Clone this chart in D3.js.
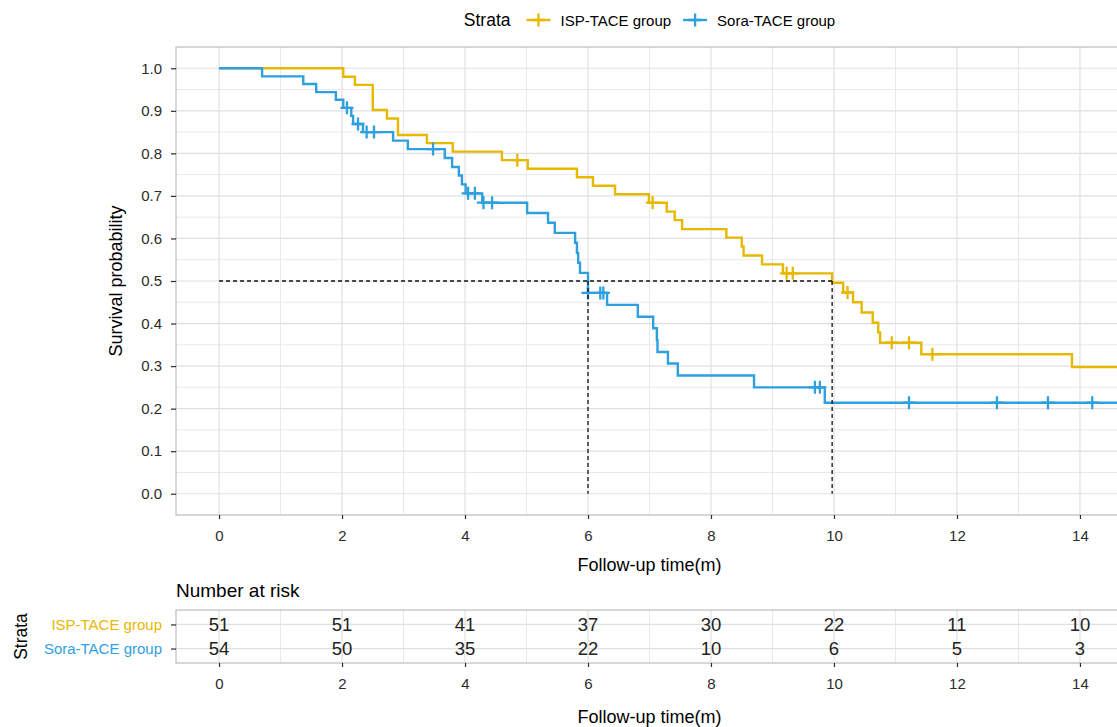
<!DOCTYPE html>
<html>
<head>
<meta charset="utf-8">
<title>Survival curves</title>
<script src="https://cdn.jsdelivr.net/npm/d3@7"></script>
<style>
  body { margin: 0; background: #fff; }
  text { font-family: "Liberation Sans", Arial, sans-serif; }
</style>
</head>
<body>
<script>
// groups and palette
var groups = ["ISP-TACE group", "Sora-TACE group"];
var colors = ["#E7B800", "#2E9FDF"];

// step curves (time in months, survival)
var ispTime = [0, 2.02, 2.21, 2.50, 2.73, 2.91, 3.38, 3.80, 4.60, 5.02, 5.82, 6.08, 6.44, 6.99,
  7.28, 7.41, 7.53, 8.25, 8.50, 8.53, 8.83, 9.17, 9.97, 10.15, 10.31, 10.45, 10.63, 10.72,
  10.75, 11.42, 13.87];
var ispSurv = [1, 0.980, 0.961, 0.902, 0.882, 0.843, 0.824, 0.804, 0.784, 0.764, 0.744, 0.724,
  0.704, 0.684, 0.663, 0.643, 0.622, 0.602, 0.581, 0.560, 0.539, 0.518, 0.496, 0.473, 0.450,
  0.426, 0.402, 0.379, 0.355, 0.328, 0.298];
var ispCensor = [4.85, 7.05, 9.23, 9.33, 10.22, 10.94, 11.22, 11.60];

var soraTime = [0, 0.70, 1.37, 1.58, 1.90, 2.02, 2.15, 2.18, 2.34, 2.83, 3.07, 3.67, 3.79, 3.90,
  3.95, 4.01, 4.28, 5.01, 5.35, 5.46, 5.79, 5.82, 5.84, 5.87, 6.00, 6.31, 6.81, 7.06, 7.12,
  7.13, 7.30, 7.46, 8.70, 9.85];
var soraSurv = [1, 0.981, 0.963, 0.944, 0.926, 0.907, 0.888, 0.869, 0.850, 0.830, 0.810, 0.789,
  0.768, 0.748, 0.727, 0.706, 0.684, 0.660, 0.637, 0.613, 0.590, 0.566, 0.543, 0.519, 0.472,
  0.444, 0.416, 0.389, 0.361, 0.333, 0.306, 0.278, 0.250, 0.214];
var soraCensor = [2.08, 2.26, 2.40, 2.52, 3.48, 4.05, 4.16, 4.30, 4.44, 6.00, 6.20, 6.25,
  9.69, 9.77, 11.22, 12.65, 13.48, 14.20];

var followEnd = 15;
var medianTimes = [9.97, 6.00];

// axes and risk table
var timeBreaks = [0, 2, 4, 6, 8, 10, 12, 14];
var survBreaks = [0, 0.1, 0.2, 0.3, 0.4, 0.5, 0.6, 0.7, 0.8, 0.9, 1.0];
var ispRisk = [51, 51, 41, 37, 30, 22, 11, 10];
var soraRisk = [54, 50, 35, 22, 10, 6, 5, 3];

var W = 1117, H = 727;
var svg = d3.select("body").append("svg")
    .attr("width", W)
    .attr("height", H);

var left = 176, right = 1123;
var x = d3.scaleLinear().domain([-0.7, 14.7]).range([left, right]);
var y = d3.scaleLinear().domain([-0.05, 1.05]).range([515, 47]);

var gridMajor = "#e0e0e0", gridMinor = "#e9e9e9", border = "#bdbdbd", ink = "#2b2b2b";

function grid(g, xs, ys, y0, y1, color, width) {
    g.selectAll(null).data(xs).enter().append("line")
        .attr("x1", d => x(d)).attr("x2", d => x(d))
        .attr("y1", y0).attr("y2", y1)
        .attr("stroke", color).attr("stroke-width", width);
    g.selectAll(null).data(ys).enter().append("line")
        .attr("x1", left).attr("x2", right)
        .attr("y1", d => d).attr("y2", d => d)
        .attr("stroke", color).attr("stroke-width", width);
}

// ---- survival panel ----
var minorX = d3.range(1, 14, 2);
var minorY = survBreaks.slice(0, -1).map(d => d + 0.05);
var pg = svg.append("g");
grid(pg, minorX, minorY.map(y), y.range()[1], y.range()[0], gridMinor, 1);
grid(pg, timeBreaks, survBreaks.map(y), y.range()[1], y.range()[0], gridMajor, 1.2);

svg.append("clipPath").attr("id", "clip")
  .append("rect")
    .attr("x", left).attr("y", y.range()[1])
    .attr("width", right - left).attr("height", y.range()[0] - y.range()[1]);

var line = d3.line()
    .x(d => x(d[0]))
    .y(d => y(d[1]))
    .curve(d3.curveStepAfter);

var curves = [
    { time: ispTime, surv: ispSurv, cens: ispCensor },
    { time: soraTime, surv: soraSurv, cens: soraCensor }
];

function survAt(c, t) {
    var i = d3.bisectRight(c.time, t) - 1;
    return c.surv[Math.max(i, 0)];
}

var plot = svg.append("g").attr("clip-path", "url(#clip)");
curves.forEach(function (c, k) {
    var pts = c.time.map((t, i) => [t, c.surv[i]]);
    pts.push([followEnd, c.surv[c.surv.length - 1]]);
    plot.append("path")
        .datum(pts)
        .attr("fill", "none")
        .attr("stroke", colors[k])
        .attr("stroke-width", 2.4)
        .attr("d", line);
});
curves.forEach(function (c, k) {
    plot.selectAll(null).data(c.cens).enter().append("path")
        .attr("d", function (t) {
            var px = x(t), py = y(survAt(c, t));
            return "M" + (px - 6.5) + "," + py + "h13M" + px + "," + (py - 6.5) + "v13";
        })
        .attr("stroke", colors[k])
        .attr("stroke-width", 2.3);
});

// median lines
var dash = "4,3";
plot.append("line")
    .attr("x1", x(0)).attr("x2", x(d3.max(medianTimes)))
    .attr("y1", y(0.5)).attr("y2", y(0.5))
    .attr("stroke", "#111").attr("stroke-width", 1.3).attr("stroke-dasharray", dash);
plot.selectAll(null).data(medianTimes).enter().append("line")
    .attr("x1", d => x(d)).attr("x2", d => x(d))
    .attr("y1", y(0.5)).attr("y2", y(0))
    .attr("stroke", "#111").attr("stroke-width", 1.3).attr("stroke-dasharray", dash);

svg.append("rect")
    .attr("x", left).attr("y", y.range()[1])
    .attr("width", right - left).attr("height", y.range()[0] - y.range()[1])
    .attr("fill", "none").attr("stroke", border).attr("stroke-width", 1.2);

function styleAxis(g) {
    g.select(".domain").remove();
    g.selectAll(".tick line").attr("stroke", ink).attr("stroke-width", 1.2);
    g.selectAll(".tick text").attr("fill", ink).style("font-size", "15px")
        .style("font-family", "'Liberation Sans', Arial, sans-serif");
}

svg.append("g")
    .attr("transform", "translate(" + left + ",0)")
    .call(d3.axisLeft(y).tickValues(survBreaks).tickFormat(d3.format(".1f")).tickSize(5).tickPadding(9))
    .call(styleAxis);

svg.append("g")
    .attr("transform", "translate(0," + y.range()[0] + ")")
    .call(d3.axisBottom(x).tickValues(timeBreaks).tickSize(4).tickPadding(11))
    .call(styleAxis);

svg.append("text")
    .attr("transform", "translate(116," + ((y.range()[0] + y.range()[1]) / 2) + ") rotate(-90)")
    .attr("text-anchor", "middle")
    .attr("dominant-baseline", "central")
    .style("font-size", "18px")
    .text("Survival probability");

svg.append("text")
    .attr("x", (left + right) / 2).attr("y", 571)
    .attr("text-anchor", "middle")
    .style("font-size", "18px")
    .text("Follow-up time(m)");

// legend
var leg = svg.append("g").attr("transform", "translate(0,20)");
var lx = 0;
var title = leg.append("text").attr("x", lx).attr("dominant-baseline", "central")
    .style("font-size", "17.5px").text("Strata");
lx += title.node().getComputedTextLength() + 16;
groups.forEach(function (g, k) {
    leg.append("line").attr("x1", lx).attr("x2", lx + 24)
        .attr("stroke", colors[k]).attr("stroke-width", 2.4);
    leg.append("path")
        .attr("d", "M" + (lx + 5.5) + ",0h13M" + (lx + 12) + ",-6.5v13")
        .attr("stroke", colors[k]).attr("stroke-width", 2.3);
    lx += 34;
    var t = leg.append("text").attr("x", lx).attr("dominant-baseline", "central")
        .style("font-size", "15px").text(g);
    lx += t.node().getComputedTextLength() + 12;
});
leg.attr("transform", "translate(" + ((left + right) / 2 - (lx - 12) / 2) + ",20)");

// ---- risk table ----
var rTop = 610, rBot = 663;
var ry = d3.scalePoint().domain(groups).range([rTop, rBot]).padding(0.6);

svg.append("text")
    .attr("x", left).attr("y", 597)
    .style("font-size", "19px")
    .text("Number at risk");

var rg = svg.append("g");
grid(rg, minorX, [], rTop, rBot, gridMinor, 1);
grid(rg, timeBreaks, groups.map(ry), rTop, rBot, gridMajor, 1.2);

var riskRows = [ispRisk, soraRisk];
riskRows.forEach(function (row, k) {
    svg.selectAll(null).data(row).enter().append("text")
        .attr("x", (d, i) => x(timeBreaks[i]))
        .attr("y", ry(groups[k]))
        .attr("text-anchor", "middle")
        .attr("dominant-baseline", "central")
        .attr("fill", "#222")
        .style("font-size", "18.5px")
        .text(d => d);
});

svg.append("rect")
    .attr("x", left).attr("y", rTop)
    .attr("width", right - left).attr("height", rBot - rTop)
    .attr("fill", "none").attr("stroke", border).attr("stroke-width", 1.2);

var ra = svg.append("g")
    .attr("transform", "translate(" + left + ",0)")
    .call(d3.axisLeft(ry).tickSize(5).tickPadding(9))
    .call(styleAxis);
ra.selectAll(".tick text").attr("fill", (d, i) => colors[i]);

svg.append("g")
    .attr("transform", "translate(0," + rBot + ")")
    .call(d3.axisBottom(x).tickValues(timeBreaks).tickSize(4).tickPadding(11))
    .call(styleAxis);

svg.append("text")
    .attr("transform", "translate(21," + ((rTop + rBot) / 2) + ") rotate(-90)")
    .attr("text-anchor", "middle")
    .attr("dominant-baseline", "central")
    .style("font-size", "17.5px")
    .text("Strata");

svg.append("text")
    .attr("x", (left + right) / 2).attr("y", 723)
    .attr("text-anchor", "middle")
    .style("font-size", "18px")
    .text("Follow-up time(m)");
</script>
</body>
</html>
